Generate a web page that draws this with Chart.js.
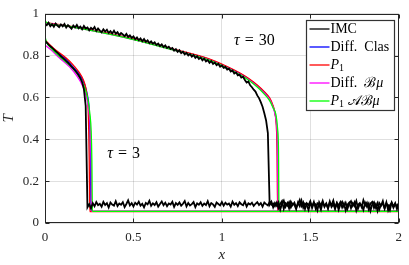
<!DOCTYPE html>
<html>
<head>
<meta charset="utf-8">
<script src="https://cdn.jsdelivr.net/npm/chart.js@4"></script>
<style>
  html, body { margin: 0; padding: 0; background: #fff; }
</style>
</head>
<body>
<canvas id="TAG" width="409" height="265"></canvas>
<script>
// IMC samples, one value every 0.01 in x, from 0 to 2
var imcStep = 0.01;
var imcTau3 = [
  0.87, 0.862, 0.853, 0.845, 0.838, 0.83, 0.822, 0.814, 0.806, 0.797,
  0.79, 0.782, 0.774, 0.766, 0.757, 0.748, 0.739, 0.729, 0.718, 0.706,
  0.692, 0.673, 0.64, 0.56, 0.075, 0.09, 0.07, 0.095, 0.08, 0.1,
  0.085,
  0.092, 0.078, 0.101, 0.086, 0.095, 0.074, 0.098, 0.088, 0.083, 0.104,
  0.081, 0.093, 0.087, 0.099, 0.076, 0.091, 0.108, 0.084, 0.095, 0.079,
  0.097, 0.088, 0.102, 0.083, 0.092, 0.075, 0.096, 0.089, 0.106, 0.082,
  0.094, 0.086, 0.099, 0.078, 0.091, 0.103, 0.085, 0.097, 0.08, 0.093,
  0.088, 0.101, 0.077, 0.095, 0.087, 0.098, 0.083, 0.092, 0.105, 0.079,
  0.096, 0.084, 0.09, 0.1, 0.076, 0.094, 0.087, 0.099, 0.082, 0.093,
  0.086, 0.104, 0.08, 0.095, 0.089, 0.077, 0.098, 0.091, 0.084, 0.1,
  0.083, 0.097, 0.088, 0.093, 0.078, 0.102, 0.087, 0.095, 0.081, 0.099,
  0.09, 0.085, 0.103, 0.079, 0.094, 0.088, 0.097, 0.082, 0.092, 0.1,
  0.086, 0.095, 0.078, 0.098, 0.09, 0.084, 0.101, 0.087, 0.093, 0.08,
  0.097, 0.072, 0.091, 0.105, 0.068, 0.094, 0.083, 0.1, 0.075, 0.092,
  0.088, 0.066, 0.098, 0.081, 0.107, 0.073, 0.093, 0.085, 0.062, 0.096,
  0.079, 0.101, 0.07, 0.094, 0.086, 0.064, 0.099, 0.082, 0.092, 0.071,
  0.103, 0.077, 0.09, 0.067, 0.096, 0.084, 0.1, 0.074, 0.093, 0.06,
  0.088, 0.098, 0.071, 0.094, 0.081, 0.105, 0.069, 0.091, 0.086, 0.063,
  0.097, 0.078, 0.093, 0.058, 0.089, 0.1, 0.074, 0.095, 0.065, 0.087,
  0.092, 0.07, 0.099, 0.061, 0.085, 0.096, 0.073, 0.09, 0.08, 0.094
];
var imcTau30 = [
  0.952, 0.945, 0.957, 0.941, 0.95, 0.938, 0.953, 0.944, 0.936, 0.949,
  0.94, 0.951, 0.934, 0.946, 0.938, 0.929, 0.944, 0.935, 0.947, 0.931,
  0.939, 0.926, 0.942, 0.93, 0.935, 0.921, 0.933, 0.925, 0.937, 0.918,
  0.93, 0.92, 0.912, 0.926, 0.915, 0.924, 0.909, 0.917, 0.906, 0.919,
  0.905, 0.912, 0.898, 0.908, 0.901, 0.893, 0.904, 0.889, 0.897, 0.885,
  0.892, 0.878, 0.887, 0.874, 0.882, 0.869, 0.879, 0.866, 0.873, 0.86,
  0.868, 0.857, 0.864, 0.851, 0.858, 0.846, 0.854, 0.841, 0.849, 0.837,
  0.843, 0.832, 0.837, 0.824, 0.831, 0.818, 0.826, 0.812, 0.819, 0.806,
  0.813, 0.801, 0.808, 0.795, 0.803, 0.789, 0.797, 0.784, 0.791, 0.778,
  0.786, 0.772, 0.779, 0.766, 0.774, 0.76, 0.767, 0.754, 0.761, 0.747,
  0.753, 0.742, 0.746, 0.733, 0.738, 0.724, 0.729, 0.715, 0.72, 0.706,
  0.709, 0.695, 0.699, 0.683, 0.671, 0.676, 0.658, 0.649, 0.637, 0.628,
  0.61, 0.597, 0.578, 0.556, 0.525, 0.49, 0.43,
  0.088, 0.102, 0.075, 0.096,
  0.083, 0.099, 0.064, 0.091, 0.107, 0.078, 0.095, 0.07, 0.102, 0.086,
  0.097, 0.074, 0.09, 0.11, 0.081, 0.099, 0.067, 0.094, 0.085, 0.104,
  0.072, 0.096, 0.088, 0.061, 0.1, 0.083, 0.106, 0.077, 0.093, 0.069,
  0.098, 0.086, 0.108, 0.073, 0.095, 0.063, 0.089, 0.102, 0.079, 0.097,
  0.068, 0.092, 0.104, 0.082, 0.099, 0.06, 0.087, 0.095, 0.076, 0.109,
  0.084, 0.097, 0.066, 0.093, 0.101, 0.072, 0.089, 0.058, 0.096, 0.083,
  0.105, 0.07, 0.092, 0.086, 0.062, 0.098, 0.079, 0.095, 0.067, 0.091
];

// model curves, [x, T]
var diffClasTau3 = [[0,0.87],[0.03,0.845],[0.07,0.815],[0.11,0.79],[0.155,0.75],[0.203,0.7],[0.225,0.66],[0.24,0.61],[0.25,0.54],[0.254,0.44],[0.257,0.3],[0.26,0.056],[2,0.056]];
var p1Tau3 = [[0,0.875],[0.03,0.85],[0.06,0.827],[0.118,0.79],[0.16,0.755],[0.208,0.7],[0.225,0.665],[0.235,0.625],[0.243,0.56],[0.247,0.45],[0.25,0.3],[0.253,0.055],[2,0.055]];
var diffBmuTau3 = [[0,0.85],[0.03,0.83],[0.081,0.79],[0.14,0.745],[0.183,0.7],[0.21,0.66],[0.235,0.6],[0.25,0.52],[0.257,0.44],[0.261,0.3],[0.264,0.056],[2,0.056]];
var p1ABmuTau3 = [[0,0.89],[0.01,0.862],[0.03,0.84],[0.09,0.79],[0.15,0.745],[0.193,0.7],[0.22,0.655],[0.24,0.6],[0.254,0.52],[0.261,0.44],[0.265,0.3],[0.268,0.056],[2,0.056]];

var diffClasTau30 = [[0,0.957],[0.1,0.945],[0.25,0.924],[0.5,0.879],[0.75,0.824],[0.92,0.785],[1.03,0.745],[1.1,0.715],[1.15,0.689],[1.2,0.656],[1.24,0.624],[1.27,0.593],[1.29,0.555],[1.3,0.525],[1.31,0.46],[1.314,0.35],[1.317,0.056],[2,0.056]];
var p1Tau30 = [[0,0.958],[0.1,0.946],[0.25,0.925],[0.5,0.88],[0.75,0.826],[0.92,0.787],[1.03,0.748],[1.1,0.718],[1.15,0.692],[1.2,0.66],[1.24,0.628],[1.27,0.598],[1.29,0.56],[1.3,0.525],[1.308,0.46],[1.312,0.35],[1.315,0.056],[2,0.056]];
var diffBmuTau30 = [[0,0.955],[0.1,0.944],[0.25,0.922],[0.5,0.877],[0.75,0.822],[0.92,0.782],[1.03,0.742],[1.1,0.712],[1.15,0.686],[1.2,0.653],[1.24,0.62],[1.27,0.59],[1.29,0.552],[1.3,0.522],[1.31,0.46],[1.315,0.35],[1.318,0.056],[2,0.056]];
var p1ABmuTau30 = [[0,0.968],[0.01,0.957],[0.1,0.944],[0.25,0.922],[0.5,0.877],[0.75,0.821],[0.92,0.781],[1.03,0.741],[1.1,0.71],[1.15,0.684],[1.2,0.65],[1.24,0.616],[1.27,0.585],[1.29,0.55],[1.305,0.52],[1.315,0.45],[1.32,0.35],[1.323,0.056],[2,0.056]];

var seriesNames = ["IMC", "Diff.  Clas", "P\u2081", "Diff.  \u212C\u03BC", "P\u2081 \uD835\uDC9C\u212C\u03BC"];
var seriesColors = ["#000000", "#0000ff", "#ff0000", "#ff00ff", "#00ff00"];

// tau labels, placed in data units
var tauLabels = [
  { value: "3", x: 0.352, y: 0.31 },
  { value: "30", x: 1.068, y: 0.85 }
];

var serif = '"Liberation Serif", "DejaVu Serif", serif';
var axisColor = "#262626";

function imcPoints(vals) {
  return vals.map(function (v, i) { return { x: +(i * imcStep).toFixed(2), y: v }; });
}
function pairPoints(pairs) {
  return pairs.map(function (p) { return { x: p[0], y: p[1] }; });
}
function line(name, color, points, smooth, width) {
  return {
    label: name,
    data: points,
    borderColor: color,
    borderWidth: width,
    pointRadius: 0,
    fill: false,
    cubicInterpolationMode: smooth ? "monotone" : "default",
    tension: 0
  };
}

// draws text, italic for math letters, small lowered 1 for the subscript
function drawRich(ctx, text, x, y, size) {
  for (var ch of text) {
    if (ch === "\u2081") {
      ctx.font = Math.round(size * 0.7) + "px " + serif;
      ctx.fillText("1", x, y + size * 0.25);
      x += ctx.measureText("1").width;
      continue;
    }
    var italic = "P\u03C4\u03BC".indexOf(ch) >= 0;
    ctx.font = (italic ? "italic " : "") + size + "px " + serif;
    ctx.fillText(ch, x, y);
    x += ctx.measureText(ch).width;
  }
  return x;
}

var frameTicks = {
  id: "frameTicks",
  afterDatasetsDraw: function (chart) {
    var ctx = chart.ctx, a = chart.chartArea, sx = chart.scales.x, sy = chart.scales.y;
    var l = Math.round(a.left) + 0.5, r = Math.round(a.right) - 0.5;
    var t = Math.round(a.top) + 0.5, b = Math.round(a.bottom) - 0.5;
    ctx.save();
    ctx.strokeStyle = axisColor;
    ctx.lineWidth = 1;
    ctx.strokeRect(l, t, r - l, b - t);
    ctx.beginPath();
    sx.ticks.forEach(function (tk) {
      var px = Math.round(sx.getPixelForValue(tk.value)) + 0.5;
      ctx.moveTo(px, b); ctx.lineTo(px, b - 4);
      ctx.moveTo(px, t); ctx.lineTo(px, t + 4);
    });
    sy.ticks.forEach(function (tk) {
      var py = Math.round(sy.getPixelForValue(tk.value)) + 0.5;
      ctx.moveTo(l, py); ctx.lineTo(l + 4, py);
      ctx.moveTo(r, py); ctx.lineTo(r - 4, py);
    });
    ctx.stroke();

    // tau labels
    ctx.fillStyle = "#000";
    ctx.textBaseline = "alphabetic";
    tauLabels.forEach(function (lb) {
      var x = sx.getPixelForValue(lb.x), y = sy.getPixelForValue(lb.y);
      x = drawRich(ctx, "\u03C4", x, y, 16);
      x = drawRich(ctx, "=", x + 5, y, 16);
      drawRich(ctx, lb.value, x + 5, y, 16);
    });

    // legend box
    var w = 88, rowH = 18, h = seriesNames.length * rowH;
    var x0 = Math.round(a.right - 5 - w) + 0.5, y0 = Math.round(a.top + 6) + 0.5;
    ctx.fillStyle = "#fff";
    ctx.fillRect(x0, y0, w, h);
    ctx.strokeStyle = "#333";
    ctx.lineWidth = 1.2;
    ctx.strokeRect(x0, y0, w, h);
    ctx.textBaseline = "middle";
    seriesNames.forEach(function (name, i) {
      var cy = y0 + 8.5 + i * rowH;
      ctx.strokeStyle = seriesColors[i];
      ctx.lineWidth = 1.3;
      ctx.beginPath();
      ctx.moveTo(x0 + 3, cy);
      ctx.lineTo(x0 + 23, cy);
      ctx.stroke();
      ctx.fillStyle = "#000";
      drawRich(ctx, name, x0 + 24, cy, 14);
    });
    ctx.restore();
  }
};

var datasets = [
  line(seriesNames[0], seriesColors[0], imcPoints(imcTau30), false, 1.8),
  line(seriesNames[0], seriesColors[0], imcPoints(imcTau3), false, 1.8),
  line(seriesNames[4], seriesColors[4], pairPoints(p1ABmuTau3), true, 1.3),
  line(seriesNames[4], seriesColors[4], pairPoints(p1ABmuTau30), true, 1.3),
  line(seriesNames[3], seriesColors[3], pairPoints(diffBmuTau3), true, 1.3),
  line(seriesNames[3], seriesColors[3], pairPoints(diffBmuTau30), true, 1.3),
  line(seriesNames[2], seriesColors[2], pairPoints(p1Tau3), true, 1.3),
  line(seriesNames[2], seriesColors[2], pairPoints(p1Tau30), true, 1.3),
  line(seriesNames[1], seriesColors[1], pairPoints(diffClasTau3), true, 1.3),
  line(seriesNames[1], seriesColors[1], pairPoints(diffClasTau30), true, 1.3)
];

function plainTick(v) { return String(+v.toFixed(2)); }

var option = {
  responsive: false,
  animation: false,
  layout: { padding: { top: 11, right: 5, left: 0, bottom: 0 } },
  plugins: { legend: { display: false }, tooltip: { enabled: false } },
  scales: {
    x: {
      type: "linear",
      min: 0,
      max: 2,
      ticks: { stepSize: 0.5, padding: 7, color: axisColor, callback: plainTick,
               font: { family: serif, size: 13 } },
      grid: { color: "rgba(0,0,0,0.12)", drawTicks: false },
      border: { display: false },
      title: { display: true, text: "x", color: axisColor, padding: { top: 0, bottom: 1 },
               font: { family: serif, size: 15, style: "italic" } },
      afterFit: function (s) { s.height = 42; }
    },
    y: {
      min: 0,
      max: 1,
      ticks: { stepSize: 0.2, padding: 6, color: axisColor, callback: plainTick,
               font: { family: serif, size: 13 } },
      grid: { color: "rgba(0,0,0,0.12)", drawTicks: false },
      border: { display: false },
      title: { display: true, text: "T", color: axisColor, padding: { top: 0, bottom: 0 },
               font: { family: serif, size: 15, style: "italic" } },
      afterFit: function (s) { s.width = 45; }
    }
  }
};

new Chart("TAG", {
  type: "line",
  data: { datasets: datasets },
  options: option,
  plugins: [frameTicks]
});
</script>
</body>
</html>
